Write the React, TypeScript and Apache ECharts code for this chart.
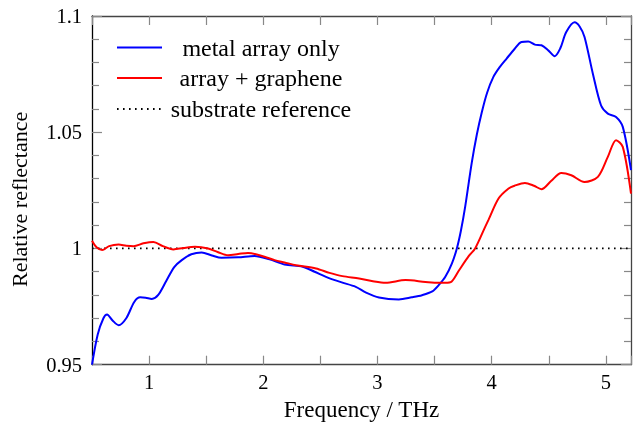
import React, { useEffect, useRef } from "react";
import * as echarts from "echarts";

const metalX = [0.5, 0.55, 0.6, 0.632, 0.68, 0.733, 0.8, 0.87, 0.922, 0.97, 1.024, 1.08, 1.15, 1.22, 1.286, 1.37, 1.46, 1.55, 1.634, 1.78, 1.924, 2.055, 2.186, 2.345, 2.449, 2.549, 2.68, 2.81, 2.9, 3.013, 3.187, 3.3, 3.39, 3.48, 3.536, 3.594, 3.652, 3.695, 3.73, 3.768, 3.826, 3.87, 3.913, 3.96, 4.015, 4.07, 4.131, 4.2, 4.261, 4.32, 4.378, 4.436, 4.5, 4.552, 4.6, 4.653, 4.726, 4.77, 4.813, 4.886, 4.958, 5.017, 5.089, 5.148, 5.22];
const metalY = [0.95, 0.963, 0.97, 0.9716, 0.969, 0.967, 0.97, 0.977, 0.979, 0.9788, 0.9783, 0.98, 0.986, 0.992, 0.995, 0.9975, 0.9983, 0.997, 0.996, 0.9962, 0.9968, 0.9953, 0.9931, 0.9921, 0.99, 0.9878, 0.9855, 0.9835, 0.981, 0.9789, 0.9781, 0.979, 0.9799, 0.9815, 0.9842, 0.9878, 0.9936, 1.0, 1.0075, 1.018, 1.037, 1.049, 1.0585, 1.067, 1.0738, 1.078, 1.0817, 1.0858, 1.0888, 1.089, 1.0877, 1.0874, 1.085, 1.0827, 1.086, 1.0931, 1.0973, 1.0955, 1.091, 1.0752, 1.0615, 1.058, 1.0566, 1.0523, 1.0337];

const grapheneX = [0.5, 0.54, 0.589, 0.65, 0.733, 0.8, 0.864, 0.95, 1.038, 1.12, 1.213, 1.3, 1.402, 1.517, 1.6, 1.692, 1.78, 1.866, 2.011, 2.1, 2.186, 2.287, 2.462, 2.58, 2.693, 2.839, 2.95, 3.071, 3.246, 3.42, 3.536, 3.594, 3.65, 3.713, 3.8, 3.855, 3.943, 3.974, 4.06, 4.148, 4.2, 4.291, 4.37, 4.436, 4.52, 4.61, 4.697, 4.813, 4.93, 5.017, 5.089, 5.148, 5.22];
const grapheneY = [1.0033, 1.0005, 0.9993, 1.001, 1.0017, 1.0012, 1.001, 1.0022, 1.0028, 1.001, 0.9996, 1.0002, 1.0007, 1.0, 0.9985, 0.9971, 0.9976, 0.9981, 0.9964, 0.995, 0.994, 0.9928, 0.9914, 0.9895, 0.9881, 0.9871, 0.986, 0.9852, 0.9864, 0.9856, 0.9852, 0.9852, 0.9858, 0.9905, 0.9968, 1.0, 1.0093, 1.0125, 1.0215, 1.0258, 1.027, 1.0282, 1.027, 1.0255, 1.029, 1.0325, 1.0315, 1.0286, 1.0308, 1.0394, 1.0466, 1.0437, 1.0236];

const refX = [0.5, 5.22];
const refY = [1, 1];

const xTicksLabelled = [1, 2, 3, 4, 5];
const seriesNames = ["metal array only", "array + graphene", "substrate reference"];

const FONT = "'Liberation Serif', 'DejaVu Serif', serif";

export default function App() {
  const ref = useRef<HTMLDivElement>(null);
  useEffect(() => {
    if (!ref.current) return;
    const chart = echarts.init(ref.current, null, { renderer: "svg" });
    const pair = (xs: number[], ys: number[]) => xs.map((x, i) => [x, ys[i]]);
    const axisLine = { show: true, lineStyle: { color: "#444", width: 1.3 } };
    const tickStyle = { color: "#888", width: 1.2 };
    const legendX0 = 117, legendX1 = 162, legendTextX = 261;
    const legendYs = [47.5, 78, 109];
    chart.setOption({
      animation: false,
      textStyle: { fontFamily: FONT },
      grid: { left: 91.5, right: 0.5, top: 16, bottom: 62.3, containLabel: false },
      xAxis: [
        {
          type: "value", min: 0.5, max: 5.22, interval: 0.5,
          name: "Frequency / THz", nameLocation: "middle", nameGap: 33,
          nameTextStyle: { fontFamily: FONT, fontSize: 23, color: "#000" },
          axisLine, splitLine: { show: false },
          axisTick: { show: true, inside: true, length: 9, lineStyle: tickStyle },
          axisLabel: {
            fontFamily: FONT, fontSize: 20.5, color: "#000", margin: 7,
            formatter: (v: number) => (xTicksLabelled.includes(Math.round(v * 1000) / 1000) ? String(v) : ""),
          },
        },
        {
          type: "value", min: 0.5, max: 5.22, interval: 0.5, position: "top",
          axisLine, splitLine: { show: false },
          axisTick: { show: true, inside: true, length: 9, lineStyle: tickStyle },
          axisLabel: { show: false },
        },
      ],
      yAxis: [
        {
          type: "value", min: 0.95, max: 1.1, interval: 0.05,
          name: "Relative reflectance", nameLocation: "middle", nameGap: 62,
          nameTextStyle: { fontFamily: FONT, fontSize: 22, color: "#000", padding: [0, 18, 0, 0] },
          axisLine: { show: true, lineStyle: { color: "#000", width: 1.3 } }, splitLine: { show: false },
          axisTick: { show: true, inside: true, length: 10, lineStyle: tickStyle },
          minorTick: { show: true, splitNumber: 5, length: 7, lineStyle: tickStyle },
          axisLabel: { fontFamily: FONT, fontSize: 20.5, color: "#000", margin: 10 },
        },
        {
          type: "value", min: 0.95, max: 1.1, interval: 0.05, position: "right",
          axisLine, splitLine: { show: false },
          axisTick: { show: true, inside: true, length: 10, lineStyle: tickStyle },
          minorTick: { show: true, splitNumber: 5, length: 7, lineStyle: tickStyle },
          axisLabel: { show: false },
        },
      ],
      series: [
        {
          name: seriesNames[0], type: "line", data: pair(metalX, metalY), smooth: 0.3,
          showSymbol: false, lineStyle: { color: "#0000ff", width: 2 }, z: 3,
        },
        {
          name: seriesNames[1], type: "line", data: pair(grapheneX, grapheneY), smooth: 0.3,
          showSymbol: false, lineStyle: { color: "#ff0000", width: 2 }, z: 4,
        },
        {
          name: seriesNames[2], type: "line", data: pair(refX, refY),
          showSymbol: false, lineStyle: { color: "#000", width: 1.8, type: [1.6, 4.4] }, z: 2,
        },
      ],
      graphic: [
        { type: "line", shape: { x1: legendX0, y1: legendYs[0], x2: legendX1, y2: legendYs[0] }, style: { stroke: "#0000ff", lineWidth: 2 } },
        { type: "line", shape: { x1: legendX0, y1: legendYs[1], x2: legendX1, y2: legendYs[1] }, style: { stroke: "#ff0000", lineWidth: 2 } },
        { type: "line", shape: { x1: legendX0, y1: legendYs[2], x2: legendX1, y2: legendYs[2] }, style: { stroke: "#000", lineWidth: 1.8, lineDash: [1.6, 4.4] } },
        ...seriesNames.map((n, i) => ({
          type: "text", x: legendTextX, y: legendYs[i],
          style: { text: n, font: `24px ${FONT}`, fill: "#000", textAlign: "center", textVerticalAlign: "middle" },
        })),
      ],
    });
    return () => chart.dispose();
  }, []);
  return <div ref={ref} style={{ position: "fixed", left: 0, top: 0, width: 634, height: 427 }} />;
}
